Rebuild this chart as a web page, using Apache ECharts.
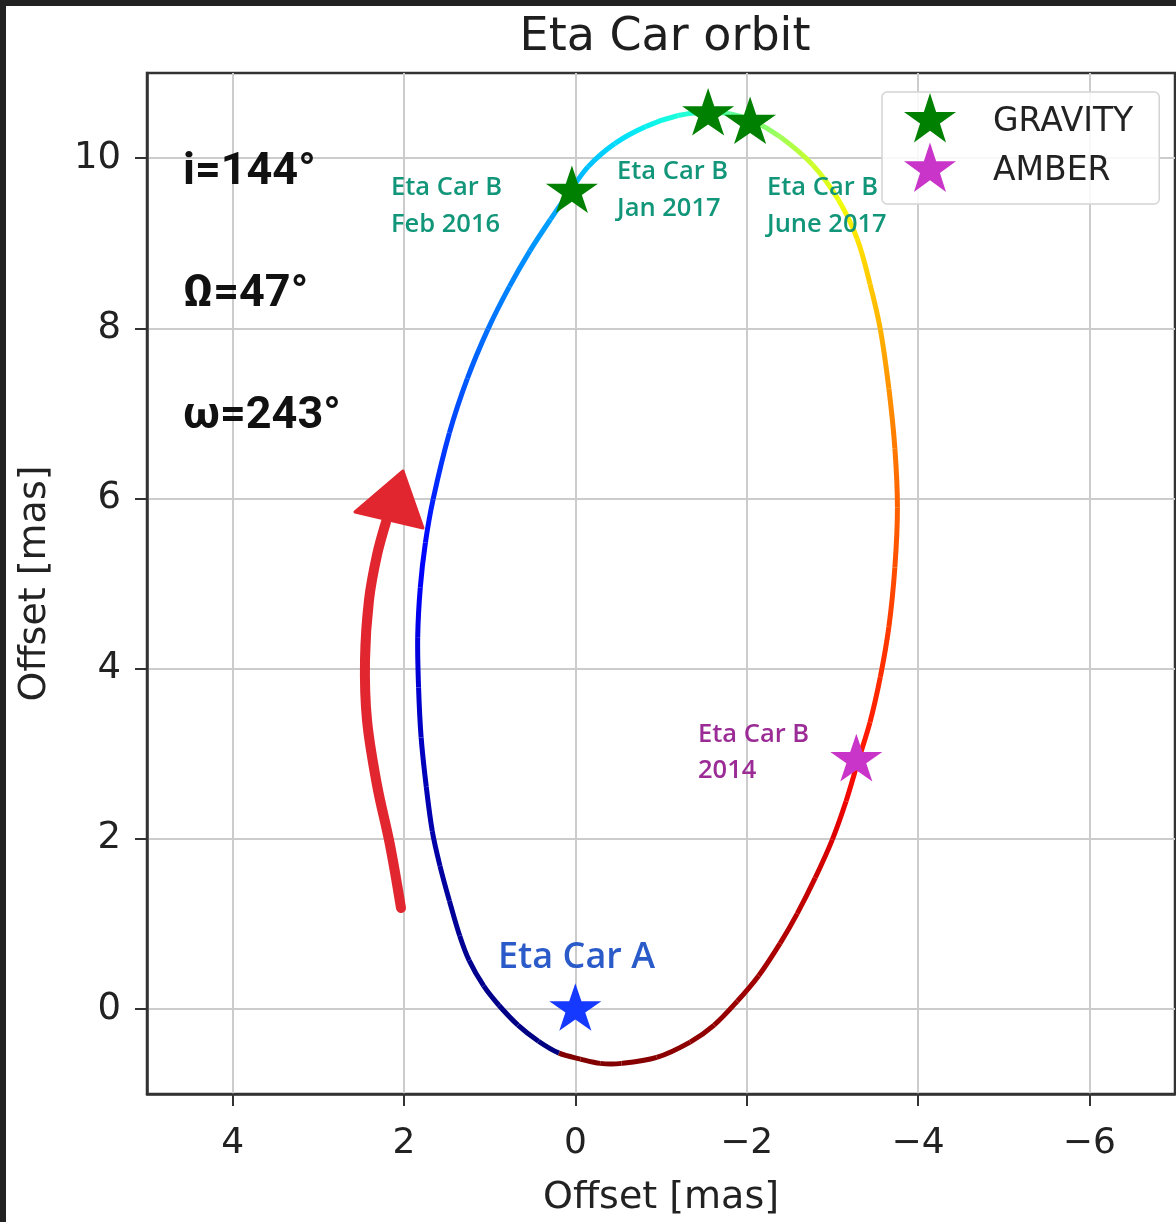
<!DOCTYPE html>
<html>
<head>
<meta charset="utf-8">
<title>Eta Car orbit</title>
<script src="https://cdn.jsdelivr.net/npm/echarts@6/dist/echarts.min.js"></script>
<style>
  html, body { margin: 0; padding: 0; background: #ffffff; }
  #chart { width: 1176px; height: 1222px; }
</style>
</head>
<body>
<div id="chart"></div>
<script>
// Relative orbit of Eta Car B around Eta Car A (offsets in mas), traced from periastron
const orbitX = [0.19, 0.43, 0.67, 0.89, 1.07, 1.24, 1.35, 1.47, 1.58, 1.67, 1.74, 1.80, 1.83, 1.84, 1.81,
  1.75, 1.66, 1.47, 1.26, 1.02, 0.77, 0.53, 0.29, 0.07, -0.15, -0.46, -0.82, -1.20, -1.52, -1.81,
  -2.07, -2.39, -2.77, -3.07, -3.29, -3.44, -3.56, -3.66, -3.73, -3.76, -3.73, -3.66, -3.56, -3.44,
  -3.30, -3.16, -3.00, -2.80, -2.59, -2.39, -2.14, -1.89, -1.62, -1.34, -0.95, -0.54, -0.29, -0.06, 0.19];
const orbitY = [-0.52, -0.38, -0.19, 0.04, 0.27, 0.57, 0.86, 1.27, 1.68, 2.09, 2.61, 3.19, 3.78, 4.37, 4.95,
  5.48, 5.99, 6.77, 7.41, 7.99, 8.49, 8.91, 9.28, 9.60, 9.90, 10.17, 10.37, 10.50, 10.54, 10.52,
  10.44, 10.25, 9.92, 9.51, 9.05, 8.52, 7.99, 7.29, 6.59, 5.89, 5.19, 4.49, 3.90, 3.37,
  2.91, 2.44, 1.99, 1.54, 1.12, 0.77, 0.39, 0.09, -0.19, -0.39, -0.57, -0.64, -0.64, -0.59, -0.52];
// Orbital phase at each track point (0 = periastron), sets the colour along the orbit
const orbitPhase = [0.000, 0.002, 0.004, 0.007, 0.010, 0.014, 0.018, 0.024, 0.030, 0.038, 0.047, 0.058, 0.070, 0.085, 0.105,
  0.130, 0.158, 0.190, 0.213, 0.235, 0.253, 0.268, 0.283, 0.298, 0.315, 0.338, 0.360, 0.385, 0.415, 0.460,
  0.500, 0.545, 0.598, 0.638, 0.672, 0.697, 0.720, 0.755, 0.782, 0.807, 0.827, 0.848, 0.863, 0.877,
  0.889, 0.905, 0.920, 0.935, 0.948, 0.960, 0.970, 0.977, 0.983, 0.987, 0.992, 0.996, 0.998, 0.999, 1.000];

// Measured positions of the companion
const gravityX = [0.04, -1.55, -2.04];
const gravityY = [9.61, 10.52, 10.42];
const gravityEpochs = ['Feb 2016', 'Jan 2017', 'June 2017'];
const amberX = [-3.28];
const amberY = [2.93];
const amberEpochs = ['2014'];
const primaryX = [0];
const primaryY = [0];

const xTicks = [4, 2, 0, -2, -4, -6];
const yTicks = [0, 2, 4, 6, 8, 10];
const orbitalElements = ['i=144°', 'Ω=47°', 'ω=243°'];

// matplotlib "jet" colour map
function jet(t) {
  const seg = pts => {
    for (let i = 1; i < pts.length; i++) {
      if (t <= pts[i][0]) {
        const [x0, y0] = pts[i - 1], [x1, y1] = pts[i];
        return y0 + (y1 - y0) * (t - x0) / (x1 - x0);
      }
    }
    return pts[pts.length - 1][1];
  };
  const r = seg([[0, 0], [0.35, 0], [0.66, 1], [0.89, 1], [1, 0.5]]);
  const g = seg([[0, 0], [0.125, 0], [0.375, 1], [0.64, 1], [0.91, 0], [1, 0]]);
  const b = seg([[0, 0.5], [0.11, 1], [0.34, 1], [0.65, 0], [1, 0]]);
  return 'rgb(' + Math.round(r * 255) + ',' + Math.round(g * 255) + ',' + Math.round(b * 255) + ')';
}

const STAR = 'path://M0,-1 L0.2245,-0.309 L0.9511,-0.309 L0.3633,0.118 L0.5878,0.809 L0,0.382 ' +
  'L-0.5878,0.809 L-0.3633,0.118 L-0.9511,-0.309 L-0.2245,-0.309 Z';

const minusFmt = v => (v < 0 ? '\u2212' + Math.abs(v) : String(v));
const AXIS_FONT = 'DejaVu Sans';
const LABEL_FONT = '"Open Sans", "Noto Sans", sans-serif';

const chart = echarts.init(document.getElementById('chart'), null, { renderer: 'canvas' });

// One bezier piece of the orbit per track point, shaded with a gradient between its end phases.
// Tangents follow the neighbouring points; handle length follows the piece length.
function renderOrbit(params, api) {
  const i = params.dataIndex;
  const n = orbitX.length;
  if (i >= n - 1) return null;
  const m = n - 1; // the last point repeats the first
  const P = k => {
    const kk = ((k % m) + m) % m;
    return api.coord([orbitX[kk], orbitY[kk]]);
  };
  const unit = (a, b) => {
    const dx = b[0] - a[0], dy = b[1] - a[1];
    const l = Math.hypot(dx, dy) || 1;
    return [dx / l, dy / l];
  };
  const p0 = P(i - 1), p1 = P(i), p2 = P(i + 1), p3 = P(i + 2);
  const len = Math.hypot(p2[0] - p1[0], p2[1] - p1[1]) / 3;
  const d1 = unit(p0, p2), d2 = unit(p1, p3);
  const c1 = [p1[0] + d1[0] * len, p1[1] + d1[1] * len];
  const c2 = [p2[0] - d2[0] * len, p2[1] - d2[1] * len];
  return {
    type: 'bezierCurve',
    shape: { x1: p1[0], y1: p1[1], x2: p2[0], y2: p2[1], cpx1: c1[0], cpy1: c1[1], cpx2: c2[0], cpy2: c2[1] },
    style: {
      fill: 'none',
      lineWidth: 5,
      lineCap: 'butt',
      stroke: {
        type: 'linear', x: p1[0], y: p1[1], x2: p2[0], y2: p2[1], global: true,
        colorStops: [{ offset: 0, color: jet(orbitPhase[i]) }, { offset: 1, color: jet(orbitPhase[i + 1]) }]
      }
    }
  };
}

const starSeries = (name, color, data) => ({
  name,
  type: 'scatter',
  z: 5,
  symbol: STAR,
  symbolKeepAspect: true,
  symbolSize: [52, 50],
  symbolOffset: [0, -2],
  itemStyle: { color, opacity: 1 },
  data
});

const option = {
  backgroundColor: '#ffffff',
  animation: false,
  title: {
    text: 'Eta Car orbit',
    left: 660,
    top: 10,
    textAlign: 'center',
    textStyle: { fontFamily: AXIS_FONT, fontSize: 46, fontWeight: 'normal', color: '#1e1e1e' }
  },
  grid: {
    left: 147, top: 73, width: 1028, height: 1026,
    show: true, borderColor: '#333333', borderWidth: 2.5, backgroundColor: 'transparent'
  },
  legend: {
    data: ['GRAVITY', 'AMBER'],
    orient: 'vertical',
    left: 882,
    top: 92,
    padding: [1, 26, 12, 22],
    itemWidth: 52,
    itemHeight: 50,
    itemGap: 0,
    selectedMode: false,
    backgroundColor: 'rgba(255,255,255,0.85)',
    borderColor: '#d4d4d4',
    borderWidth: 1.5,
    borderRadius: 5,
    formatter: name => '{t|' + name + '}',
    textStyle: {
      fontFamily: AXIS_FONT, fontSize: 33, color: '#222222',
      rich: { t: { fontFamily: AXIS_FONT, fontSize: 33, color: '#222222', padding: [9, 0, 0, 32] } }
    }
  },
  xAxis: {
    type: 'value',
    min: -7,
    max: 5,
    inverse: true,
    name: 'Offset [mas]',
    nameLocation: 'middle',
    nameGap: 85,
    nameTextStyle: { fontFamily: AXIS_FONT, fontSize: 38, color: '#222222' },
    axisLine: { show: true, onZero: false, lineStyle: { color: '#333333', width: 2.5 } },
    axisTick: { show: true, customValues: xTicks, length: 12, inside: false, lineStyle: { color: '#333333', width: 2 } },
    axisLabel: { customValues: xTicks, formatter: minusFmt, margin: 32, fontFamily: AXIS_FONT, fontSize: 36, color: '#222222' },
    splitLine: { show: true, lineStyle: { color: '#cccccc', width: 2 } }
  },
  yAxis: {
    type: 'value',
    min: -1,
    max: 11,
    name: 'Offset [mas]',
    nameLocation: 'middle',
    nameGap: 93,
    nameRotate: 90,
    nameTextStyle: { fontFamily: AXIS_FONT, fontSize: 38, color: '#222222' },
    axisLine: { show: true, onZero: false, lineStyle: { color: '#333333', width: 2.5 } },
    axisTick: { show: true, customValues: yTicks, length: 12, inside: false, lineStyle: { color: '#333333', width: 2 } },
    axisLabel: { customValues: yTicks, formatter: minusFmt, margin: 26, padding: [14, 0, 0, 0], fontFamily: AXIS_FONT, fontSize: 37, color: '#222222' },
    splitLine: { show: true, lineStyle: { color: '#cccccc', width: 2 } }
  },
  series: [
    {
      name: 'orbit',
      type: 'custom',
      silent: true,
      z: 2,
      renderItem: renderOrbit,
      encode: { x: 0, y: 1 },
      data: orbitX.map((x, i) => [x, orbitY[i], orbitPhase[i]])
    },
    starSeries('GRAVITY', '#008000', gravityX.map((x, i) => [x, gravityY[i], gravityEpochs[i]])),
    starSeries('AMBER', '#c935c9', amberX.map((x, i) => [x, amberY[i], amberEpochs[i]])),
    starSeries('Eta Car A', '#1639ff', primaryX.map((x, i) => [x, primaryY[i]]))
  ],
  graphic: [
    // dark frame strips along the top and left edge
    { type: 'rect', z: 100, shape: { x: 0, y: 0, width: 1176, height: 6 }, style: { fill: '#222222' } },
    { type: 'rect', z: 100, shape: { x: 0, y: 0, width: 6, height: 1222 }, style: { fill: '#222222' } },

    // orbital elements
    ...orbitalElements.map((t, k) => ({
      type: 'text', z: 50, style: {
        text: t, x: 183, y: [173, 295, 417][k], textVerticalAlign: 'middle',
        font: 'bold 45px Roboto, "Liberation Sans", sans-serif', fill: '#111111'
      }
    })),

    // companion epochs
    ...gravityEpochs.map((ep, k) => ({
      type: 'text', z: 50, style: {
        text: 'Eta Car B\n' + ep, x: [391, 617, 767][k], y: [206, 190, 206][k],
        textVerticalAlign: 'middle', lineHeight: 37,
        font: '600 25.5px ' + LABEL_FONT, fill: '#12967a'
      }
    })),
    ...amberEpochs.map(ep => ({
      type: 'text', z: 50, style: {
        text: 'Eta Car B\n' + ep, x: 698, y: 753,
        textVerticalAlign: 'middle', lineHeight: 36,
        font: '600 25.5px ' + LABEL_FONT, fill: '#9b2c96'
      }
    })),
    {
      type: 'text', z: 50, style: {
        text: 'Eta Car A', x: 498, y: 958, textVerticalAlign: 'middle',
        font: '600 36px ' + LABEL_FONT, fill: '#2a5bc9'
      }
    },

    // direction of motion
    {
      type: 'polyline', z: 40,
      shape: { points: [[401, 908], [390, 845], [377, 785], [367, 720], [365, 660], [369, 600], [377, 555], [386, 522]], smooth: 0.35 },
      style: { stroke: '#e1262f', lineWidth: 10, lineCap: 'round', lineJoin: 'round', fill: 'none' }
    },
    {
      type: 'polygon', z: 40,
      shape: { points: [[403, 471], [355, 512], [423, 528]] },
      style: { fill: '#e1262f', stroke: '#e1262f', lineWidth: 3, lineJoin: 'round' }
    }
  ]
};

chart.setOption(option);
</script>
</body>
</html>
